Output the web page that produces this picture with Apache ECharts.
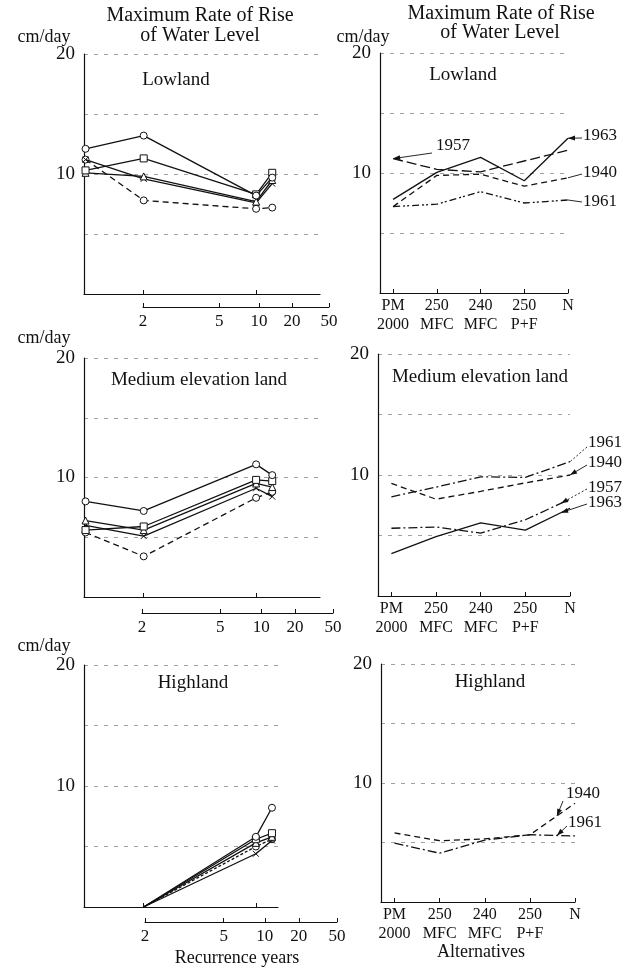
<!DOCTYPE html>
<html>
<head>
<meta charset="utf-8">
<script src="https://cdn.jsdelivr.net/npm/echarts@6/dist/echarts.min.js"></script>
<style>
html, body { margin: 0; padding: 0; background: #fff; }
#chart { width: 628px; height: 973px; }
</style>
</head>
<body>
<div id="chart"></div>
<script>
// ---- recurrence years (x values of the left-hand panels) ----
const recurLowland = [1.34, 2, 10, 14];
const recurMedium = [1.34, 2, 10, 14];
const recurHighland = [2, 10, 14];
const recurTicks = [2, 5, 10, 20, 50];

// ---- left panels: maximum rate of rise (cm/day) per recurrence ----
const lowCircle   = [12.1, 13.2, 8.2, 9.7];
const lowSquare   = [10.3, 11.3, 8.3, 10.1];
const lowTriangle = [10.1, 9.8, 7.7, 9.5];
const lowCross    = [11.2, 9.6, 7.6, 9.2];
const lowDashed   = [11.2, 7.8, 7.1, 7.2];

const medCircle   = [8.0, 7.2, 11.1, 10.2];
const medSquare   = [5.6, 5.9, 9.8, 9.7];
const medTriangle = [6.4, 5.6, 9.5, 9.2];
const medCross    = [6.0, 5.1, 9.1, 8.4];
const medDashed   = [5.4, 3.4, 8.3, 8.8];

const highCircle   = [0, 5.8, 8.2];
const highSquare   = [0, 5.6, 6.1];
const highTriangle = [0, 5.3, 5.8];
const highCross    = [0, 4.4, 5.5];
const highDashed   = [0, 5.0, 5.6];

// ---- right panels: alternatives ----
const alternatives = ['PM\n2000', '250\nMFC', '240\nMFC', '250\nP+F', 'N'];

const low1957 = [11.2, 10.3, 10.1, 11.0, 11.9];
const low1940 = [7.2, 9.8, 9.9, 8.9, 9.6];
const low1961 = [7.2, 7.4, 8.45, 7.5, 7.75];
const low1963 = [7.8, 10.05, 11.3, 9.35, 12.9];

const med1961 = [8.2, 9.0, 9.85, 9.8, 11.1];
const med1940 = [9.3, 8.0, 8.65, 9.35, 10.0];
const med1957 = [5.6, 5.7, 5.2, 6.3, 8.0];
const med1963 = [3.5, 4.9, 6.05, 5.45, 7.25];

const high1940 = [5.8, 5.15, 5.3, 5.65, 8.3];
const high1961 = [4.95, 4.1, 5.2, 5.65, 5.55];

const yLabelValues = [10, 20];

// ---- helpers ----
const FONT = 'Liberation Serif';
const ink = '#111';

// inverse of the standard normal CDF (normal probability paper)
function probit(p) {
  const a = [-3.969683028665376e+01, 2.209460984245205e+02, -2.759285104469687e+02, 1.383577518672690e+02, -3.066479806614716e+01, 2.506628277459239e+00];
  const b = [-5.447609879822406e+01, 1.615858368580409e+02, -1.556989798598866e+02, 6.680131188771972e+01, -1.328068155288572e+01];
  const c = [-7.784894002430293e-03, -3.223964580411365e-01, -2.400758277161838e+00, -2.549732539343734e+00, 4.374664141464968e+00, 2.938163982698783e+00];
  const d = [7.784695709041462e-03, 3.224671290700398e-01, 2.445134137142996e+00, 3.754408661907416e+00];
  const pl = 0.02425, ph = 1 - pl;
  let q, r;
  if (p < pl) {
    q = Math.sqrt(-2 * Math.log(p));
    return (((((c[0]*q+c[1])*q+c[2])*q+c[3])*q+c[4])*q+c[5]) / ((((d[0]*q+d[1])*q+d[2])*q+d[3])*q+1);
  }
  if (p <= ph) {
    q = p - 0.5; r = q * q;
    return (((((a[0]*r+a[1])*r+a[2])*r+a[3])*r+a[4])*r+a[5])*q / (((((b[0]*r+b[1])*r+b[2])*r+b[3])*r+b[4])*r+1);
  }
  q = Math.sqrt(-2 * Math.log(1 - p));
  return -(((((c[0]*q+c[1])*q+c[2])*q+c[3])*q+c[4])*q+c[5]) / ((((d[0]*q+d[1])*q+d[2])*q+d[3])*q+1);
}
// recurrence interval (years) -> position on the probability axis
const zOf = T => probit(1 - 1 / T);

const crossPath = 'path://M0,0L10,10M10,0L0,10';

// grid layout: each grid owns xAxis[i] / yAxis[i]
const grids = [
  { left: 84,  top: 54,  width: 236, height: 240 }, // 0 lowland, recurrence
  { left: 143, top: 306, width: 186, height: 1 },   // 1 lowland, probability scale
  { left: 380, top: 53,  width: 188, height: 240 }, // 2 lowland, alternatives
  { left: 84,  top: 358, width: 236, height: 239 }, // 3 medium, recurrence
  { left: 142, top: 612, width: 191, height: 1 },   // 4 medium, probability scale
  { left: 378, top: 354, width: 192, height: 242 }, // 5 medium, alternatives
  { left: 84,  top: 665, width: 194, height: 242 }, // 6 highland, recurrence
  { left: 145, top: 921, width: 192, height: 1 },   // 7 highland, probability scale
  { left: 381, top: 664, width: 194, height: 238 }  // 8 highland, alternatives
];

const axisLineStyle = { color: ink, width: 1.2 };
const splitStyle = { color: '#8a8a8a', type: [4, 6], width: 1, opacity: 0.8 };

function plotY(g) {
  return {
    gridIndex: g, type: 'value', min: 0, max: 20, interval: 5,
    axisLine: { show: true, onZero: false, lineStyle: axisLineStyle },
    axisTick: { show: false },
    splitLine: { show: true, lineStyle: splitStyle },
    axisLabel: { customValues: yLabelValues, fontFamily: FONT, fontSize: 19, color: ink, margin: 9 }
  };
}
function hiddenY(g) {
  return { gridIndex: g, type: 'value', min: 0, max: 1, show: false };
}
function recurX(g, maxT) {
  return {
    gridIndex: g, type: 'value', min: zOf(1.33), max: zOf(maxT),
    axisLine: { show: true, onZero: false, lineStyle: axisLineStyle },
    axisTick: { show: true, inside: true, length: 4, customValues: [zOf(2), zOf(10)], lineStyle: { color: ink } },
    axisLabel: { show: false },
    splitLine: { show: false }
  };
}
function scaleX(g) {
  const vals = recurTicks.map(zOf);
  return {
    gridIndex: g, type: 'value', min: zOf(2), max: zOf(50),
    axisLine: { show: true, onZero: false, lineStyle: { color: ink, width: 1 } },
    axisTick: { show: true, inside: true, length: 4, customValues: vals, lineStyle: { color: ink } },
    axisLabel: {
      customValues: vals, fontFamily: FONT, fontSize: 17, color: ink, margin: 6,
      formatter: v => {
        let best = recurTicks[0];
        recurTicks.forEach(t => { if (Math.abs(zOf(t) - v) < Math.abs(zOf(best) - v)) best = t; });
        return String(best);
      }
    },
    splitLine: { show: false }
  };
}
function altX(g) {
  const idx = alternatives.map((_, i) => i);
  return {
    gridIndex: g, type: 'value', min: -0.3, max: alternatives.length - 1,
    axisLine: { show: true, onZero: false, lineStyle: axisLineStyle },
    axisTick: { show: true, inside: true, length: 4, customValues: idx, lineStyle: { color: ink } },
    axisLabel: {
      customValues: idx, fontFamily: FONT, fontSize: 16, lineHeight: 19, color: ink, margin: 3,
      formatter: v => alternatives[Math.round(v)]
    },
    splitLine: { show: false }
  };
}

const xAxes = [
  recurX(0, 45), scaleX(1), altX(2),
  recurX(3, 45), scaleX(4), altX(5),
  recurX(6, 16), scaleX(7), altX(8)
];
const yAxes = [
  plotY(0), hiddenY(1), plotY(2),
  plotY(3), hiddenY(4), plotY(5),
  plotY(6), hiddenY(7), plotY(8)
];

function leftSeries(g, recur, rows) {
  return rows.map((r, i) => ({
    type: 'line', xAxisIndex: g, yAxisIndex: g, silent: true, animation: false,
    z: 10 - i,
    data: r.values.map((v, j) => ({ value: [zOf(recur[j]), v], symbol: v === 0 ? 'none' : r.symbol })),
    symbol: r.symbol, symbolSize: r.size || 7, showAllSymbol: true,
    lineStyle: { color: ink, width: 1.3, type: r.dash },
    itemStyle: { color: '#fff', borderColor: ink, borderWidth: 1 }
  }));
}
const dashA = [6, 4];
const dashDot = [9, 3, 2, 3];
const dashDotDot = [7, 3, 2, 2, 2, 3];

function rightSeries(g, rows) {
  return rows.map(r => ({
    type: 'line', xAxisIndex: g, yAxisIndex: g, silent: true, animation: false,
    data: r.values.map((v, j) => [j, v]), symbol: 'none',
    lineStyle: { color: ink, width: 1.3, type: r.dash }
  }));
}

const series = [].concat(
  leftSeries(0, recurLowland, [
    { values: lowCircle, symbol: 'circle', dash: 'solid' },
    { values: lowSquare, symbol: 'rect', dash: 'solid' },
    { values: lowTriangle, symbol: 'triangle', dash: 'solid' },
    { values: lowCross, symbol: crossPath, dash: 'solid', size: 6 },
    { values: lowDashed, symbol: 'circle', dash: dashA }
  ]),
  rightSeries(2, [
    { values: low1957, dash: [10, 4] },
    { values: low1940, dash: dashA },
    { values: low1961, dash: dashDotDot },
    { values: low1963, dash: 'solid' }
  ]),
  leftSeries(3, recurMedium, [
    { values: medCircle, symbol: 'circle', dash: 'solid' },
    { values: medSquare, symbol: 'rect', dash: 'solid' },
    { values: medTriangle, symbol: 'triangle', dash: 'solid' },
    { values: medCross, symbol: crossPath, dash: 'solid', size: 6 },
    { values: medDashed, symbol: 'circle', dash: dashA }
  ]),
  rightSeries(5, [
    { values: med1961, dash: dashDot },
    { values: med1940, dash: dashA },
    { values: med1957, dash: dashDot },
    { values: med1963, dash: 'solid' }
  ]),
  leftSeries(6, recurHighland, [
    { values: highCircle, symbol: 'circle', dash: 'solid' },
    { values: highSquare, symbol: 'rect', dash: 'solid' },
    { values: highTriangle, symbol: 'triangle', dash: 'solid' },
    { values: highCross, symbol: crossPath, dash: 'solid', size: 6 },
    { values: highDashed, symbol: 'circle', dash: [3, 2] }
  ]),
  rightSeries(8, [
    { values: high1940, dash: dashA },
    { values: high1961, dash: dashDot }
  ])
);

function txt(text, x, y, size, align) {
  return {
    type: 'text', x: x, y: y, silent: true,
    style: {
      text: text, font: size + 'px "' + FONT + '"', fill: ink,
      textAlign: align || 'center', textVerticalAlign: 'middle',
      align: align || 'center', verticalAlign: 'middle'
    }
  };
}

const texts = [
  txt('Maximum Rate of Rise', 200, 16, 20), txt('of Water Level', 200, 36, 20),
  txt('Maximum Rate of Rise', 501, 14, 20), txt('of Water Level', 500, 33, 20),
  txt('cm/day', 44, 37, 18), txt('cm/day', 363, 37, 18),
  txt('cm/day', 44, 338, 18), txt('cm/day', 44, 646, 18),
  txt('Lowland', 176, 80, 19), txt('Lowland', 463, 75, 19),
  txt('Medium elevation land', 199, 380, 19), txt('Medium elevation land', 480, 377, 19),
  txt('Highland', 193, 683, 19), txt('Highland', 490, 682, 19),
  txt('Recurrence years', 237, 958, 18), txt('Alternatives', 481, 952, 18)
];

const chart = echarts.init(document.getElementById('chart'), null, { renderer: 'canvas' });
chart.setOption({
  backgroundColor: '#fff',
  animation: false,
  grid: grids,
  xAxis: xAxes,
  yAxis: yAxes,
  series: series,
  graphic: texts
});

// year annotations with leader lines, anchored to the series they name
function valueAt(values, x) {
  const i = Math.min(Math.floor(x), values.length - 2);
  const f = x - i;
  return values[i] * (1 - f) + values[i + 1] * f;
}
const notes = [
  { g: 2, text: '1957', values: low1957, at: 0,   label: [436, 146], from: [432, 153], arrow: true },
  { g: 2, text: '1963', values: low1963, at: 4,   label: [583, 136], from: [582, 138], arrow: true },
  { g: 2, text: '1940', values: low1940, at: 4,   label: [583, 173], from: [582, 174], arrow: false },
  { g: 2, text: '1961', values: low1961, at: 4,   label: [583, 202], from: [582, 202], arrow: false },
  { g: 5, text: '1961', values: med1961, at: 4,   label: [588, 443], from: [587, 447], arrow: false, dotted: true },
  { g: 5, text: '1940', values: med1940, at: 4,   label: [588, 463], from: [587, 465], arrow: true },
  { g: 5, text: '1957', values: med1957, at: 3.8, label: [588, 488], from: [587, 489], arrow: true, dotted: true },
  { g: 5, text: '1963', values: med1963, at: 3.8, label: [588, 503], from: [587, 504], arrow: true },
  { g: 8, text: '1940', values: high1940, at: 3.6, label: [566, 794], from: [563, 801], arrow: true },
  { g: 8, text: '1961', values: high1961, at: 3.6, label: [568, 823], from: [567, 826], arrow: true }
];

const extra = [];
notes.forEach(n => {
  const tip = chart.convertToPixel({ xAxisIndex: n.g, yAxisIndex: n.g }, [n.at, valueAt(n.values, n.at)]);
  extra.push(txt(n.text, n.label[0], n.label[1], 17, 'left'));
  extra.push({
    type: 'line', silent: true,
    shape: { x1: n.from[0], y1: n.from[1], x2: tip[0], y2: tip[1] },
    style: { stroke: ink, lineWidth: 0.9, lineDash: n.dotted ? [2, 2] : null }
  });
  if (n.arrow) {
    const dx = tip[0] - n.from[0], dy = tip[1] - n.from[1];
    const len = Math.sqrt(dx * dx + dy * dy) || 1;
    const ux = dx / len, uy = dy / len;
    const bx = tip[0] - ux * 7, by = tip[1] - uy * 7;
    extra.push({
      type: 'polygon', silent: true,
      shape: { points: [[tip[0], tip[1]], [bx - uy * 2.5, by + ux * 2.5], [bx + uy * 2.5, by - ux * 2.5]] },
      style: { fill: ink }
    });
  }
});
chart.setOption({ graphic: texts.concat(extra) });
</script>
</body>
</html>
